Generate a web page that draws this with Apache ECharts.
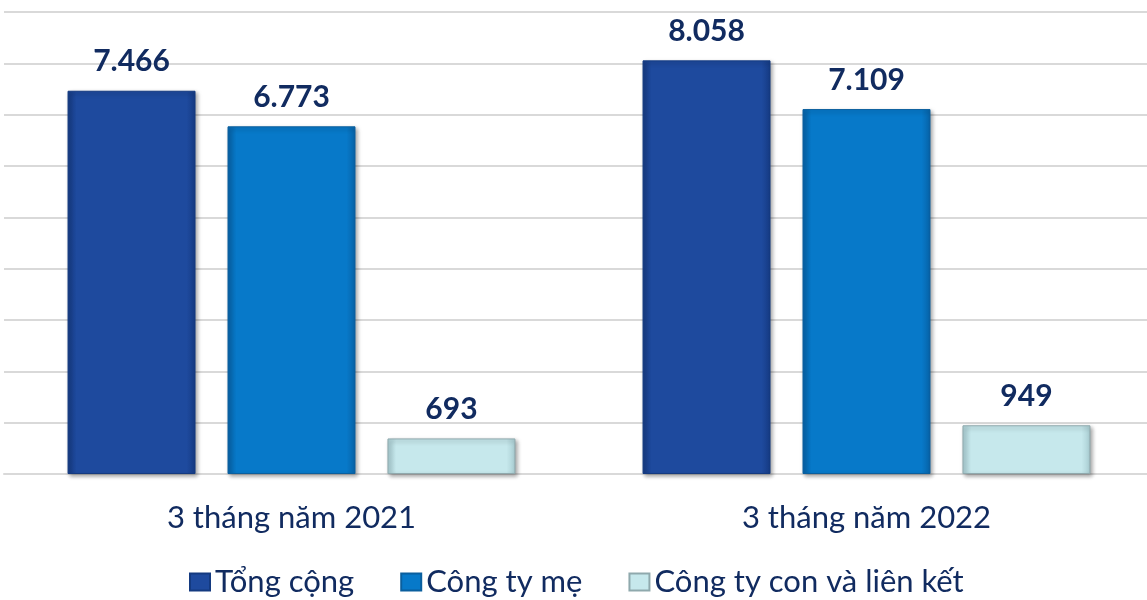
<!DOCTYPE html>
<html>
<head>
<meta charset="utf-8">
<script src="https://cdn.jsdelivr.net/npm/echarts@6/dist/echarts.min.js"></script>
<style>
html, body { margin: 0; padding: 0; background: #fff; overflow: hidden; }
#main { width: 1154px; height: 600px; }
</style>
</head>
<body>
<div id="main"></div>
<script>
var categories = ["3 tháng năm 2021", "3 tháng năm 2022"];
var seriesNames = ["Tổng cộng", "Công ty mẹ", "Công ty con và liên kết"];
var tongCong = [7466, 8058];
var congTyMe = [6773, 7109];
var congTyCon = [693, 949];

var colorList = ["#1E4A9E", "#0779C9", "#C6E8EC"];
var edgeList = ["#163B84", "#0763A8", "#A9CDD2"];
var borderList = ["#143A80", "#0A5F9E", "#8FA9AD"];
var textColor = "#112B60";

// 1.234 kiểu số Việt
function fmt(v) {
	return String(v).replace(/\B(?=(\d{3})+(?!\d))/g, ".");
}

function makeSeries(name, data, i) {
	return {
		name: name,
		type: "bar",
		data: data,
		barGap: "25%",
		barCategoryGap: "22.1%",
		itemStyle: {
			color: new echarts.graphic.LinearGradient(0, 0, 1, 0, [
				{ offset: 0, color: edgeList[i] },
				{ offset: 0.07, color: colorList[i] },
				{ offset: 0.93, color: colorList[i] },
				{ offset: 1, color: edgeList[i] }
			]),
			borderColor: borderList[i],
			borderWidth: 1,
			shadowColor: "rgba(0,0,0,0.35)",
			shadowBlur: 4,
			shadowOffsetX: 2,
			shadowOffsetY: 2
		},
		label: {
			show: true,
			position: "top",
			distance: 14,
			color: textColor,
			fontFamily: "Lato",
			fontWeight: "bold",
			fontSize: 30,
			formatter: function(p) {
				return fmt(p.value);
			}
		}
	};
}

var chart = echarts.init(document.getElementById("main"));
chart.setOption({
	animation: false,
	grid: { left: 4, right: 0, top: 12, height: 462, containLabel: false },
	legend: {
		data: seriesNames,
		top: 566,
		left: 189,
		padding: 0,
		icon: "rect",
		itemWidth: 20,
		itemHeight: 17,
		itemGap: 46,
		textStyle: { color: textColor, fontFamily: "Lato", fontSize: 31, lineHeight: 32 }
	},
	xAxis: {
		type: "category",
		data: categories,
		axisTick: { show: false },
		axisLine: { lineStyle: { color: "#D9D9D9", width: 2 } },
		axisLabel: { color: textColor, fontFamily: "Lato", fontSize: 31, margin: 28 }
	},
	yAxis: {
		type: "value",
		min: 0,
		max: 9000,
		interval: 1000,
		axisLabel: { show: false },
		splitLine: { lineStyle: { color: "#D9D9D9", width: 2 } }
	},
	series: [
		makeSeries(seriesNames[0], tongCong, 0),
		makeSeries(seriesNames[1], congTyMe, 1),
		makeSeries(seriesNames[2], congTyCon, 2)
	]
});
</script>
</body>
</html>
